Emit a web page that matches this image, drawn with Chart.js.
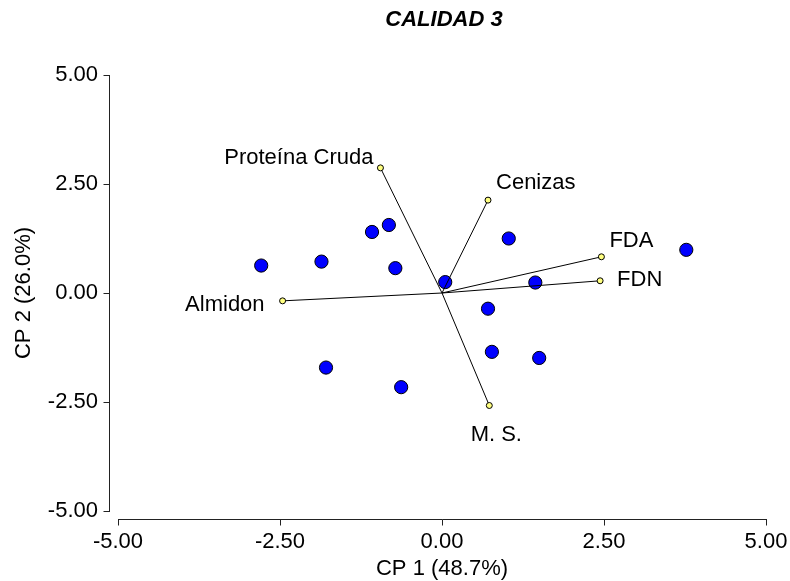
<!DOCTYPE html>
<html lang="es">
<head>
  <meta charset="UTF-8">
  <title>CALIDAD 3</title>
  <style>
    html, body { margin: 0; padding: 0; background: #fff; }
    #wrap { width: 790px; height: 581px; }
  </style>
  <script src="https://cdn.jsdelivr.net/npm/chart.js"></script>
</head>
<body>
  <div id="wrap"><canvas id="biplot" width="790" height="581"></canvas></div>

  <script>
    // scores of the samples (CP 1, CP 2)
    const sampleX = [-2.79, -1.86, -1.08, -0.82, -0.72, 0.05, 1.03, 3.77, 1.44, 0.71, 0.77, 1.50, -1.79, -0.63];
    const sampleY = [0.63, 0.72, 1.40, 1.56, 0.57, 0.25, 1.25, 0.99, 0.24, -0.36, -1.35, -1.49, -1.71, -2.16];

    // variable vectors
    const varNames = ['Proteína Cruda', 'Cenizas', 'FDA', 'FDN', 'Almidon', 'M. S.'];
    const varX = [-0.95, 0.71, 2.46, 2.44, -2.46, 0.73];
    const varY = [2.87, 2.13, 0.83, 0.28, -0.18, -2.58];

    const axisTicks = [-5, -2.5, 0, 2.5, 5];
    const chartTitle = 'CALIDAD 3';
    const xTitle = 'CP 1 (48.7%)';
    const yTitle = 'CP 2 (26.0%)';

    // where each vector label sits relative to its tip
    const labelPlace = [
      { dx: -7, dy: -10, align: 'right' },
      { dx: 8, dy: -17, align: 'left' },
      { dx: 8, dy: -16, align: 'left' },
      { dx: 17, dy: -1, align: 'left' },
      { dx: -18, dy: 4, align: 'right' },
      { dx: 7, dy: 29, align: 'center' }
    ];

    const FONT = "'Liberation Sans', Arial, sans-serif";
    Chart.defaults.font.family = FONT;
    Chart.defaults.color = '#000';

    const biplotDecor = {
      id: 'biplotDecor',
      afterDraw(chart) {
        const { ctx, chartArea: a, scales: { x, y } } = chart;
        const yAxisX = a.left - 8.5;
        const xAxisY = a.bottom + 8.5;
        ctx.save();
        ctx.strokeStyle = '#222';
        ctx.lineWidth = 1;
        ctx.beginPath();
        // y axis + ticks
        ctx.moveTo(yAxisX, Math.round(y.getPixelForValue(5)));
        ctx.lineTo(yAxisX, Math.round(y.getPixelForValue(-5)) + 1);
        axisTicks.forEach(v => {
          const p = Math.round(y.getPixelForValue(v)) + 0.5;
          ctx.moveTo(yAxisX - 6, p);
          ctx.lineTo(yAxisX, p);
        });
        // x axis + ticks
        ctx.moveTo(Math.round(x.getPixelForValue(-5)), xAxisY);
        ctx.lineTo(Math.round(x.getPixelForValue(5)) + 1, xAxisY);
        axisTicks.forEach(v => {
          const p = Math.round(x.getPixelForValue(v)) + 0.5;
          ctx.moveTo(p, xAxisY);
          ctx.lineTo(p, xAxisY + 6);
        });
        ctx.stroke();

        // vector labels
        ctx.fillStyle = '#000';
        ctx.font = '22px ' + FONT;
        ctx.textBaseline = 'middle';
        varNames.forEach((name, i) => {
          const px = x.getPixelForValue(varX[i]);
          const py = y.getPixelForValue(varY[i]);
          const pl = labelPlace[i];
          ctx.textAlign = pl.align;
          ctx.fillText(name, px + pl.dx, py + pl.dy);
        });

        // title
        ctx.font = 'italic bold 22px ' + FONT;
        ctx.textAlign = 'center';
        ctx.fillText(chartTitle, (a.left + a.right) / 2 + 2, 20);
        ctx.restore();
      }
    };

    const vectorLines = varNames.map((name, i) => ({
      label: name,
      data: [{ x: 0, y: 0 }, { x: varX[i], y: varY[i] }],
      showLine: true,
      borderColor: '#000',
      borderWidth: 1,
      pointRadius: 0
    }));

    new Chart(document.getElementById('biplot'), {
      type: 'scatter',
      data: {
        datasets: [
          {
            label: 'variables',
            data: varX.map((v, i) => ({ x: v, y: varY[i] })),
            pointRadius: 3,
            backgroundColor: '#ffff80',
            borderColor: '#000',
            borderWidth: 1
          },
          ...vectorLines,
          {
            label: 'muestras',
            data: sampleX.map((v, i) => ({ x: v, y: sampleY[i] })),
            pointRadius: 6.6,
            backgroundColor: '#0000ff',
            borderColor: '#000',
            borderWidth: 1
          }
        ]
      },
      options: {
        responsive: false,
        animation: false,
        layout: { padding: { top: 75, right: 24, bottom: 0, left: 0 } },
        plugins: {
          legend: { display: false },
          tooltip: { enabled: false }
        },
        scales: {
          x: {
            type: 'linear',
            min: -5, max: 5,
            afterBuildTicks: s => { s.ticks = axisTicks.map(v => ({ value: v })); },
            afterFit: s => { s.height = 70; s.paddingLeft = 0; s.paddingRight = 0; },
            grid: { display: false, drawTicks: false },
            border: { display: false },
            ticks: { padding: 18, font: { size: 22 }, callback: v => v.toFixed(2) },
            title: { display: true, text: xTitle, font: { size: 22 }, padding: { top: 0, bottom: -1 } }
          },
          y: {
            type: 'linear',
            min: -5, max: 5,
            afterBuildTicks: s => { s.ticks = axisTicks.map(v => ({ value: v })); },
            afterFit: s => { s.width = 118; s.paddingTop = 0; s.paddingBottom = 0; },
            grid: { display: false, drawTicks: false },
            border: { display: false },
            ticks: { padding: 20, font: { size: 22 }, callback: v => v.toFixed(2) },
            title: { display: true, text: yTitle, font: { size: 22 }, padding: { top: 11, bottom: 0 } }
          }
        }
      },
      plugins: [biplotDecor]
    });
  </script>
</body>
</html>
